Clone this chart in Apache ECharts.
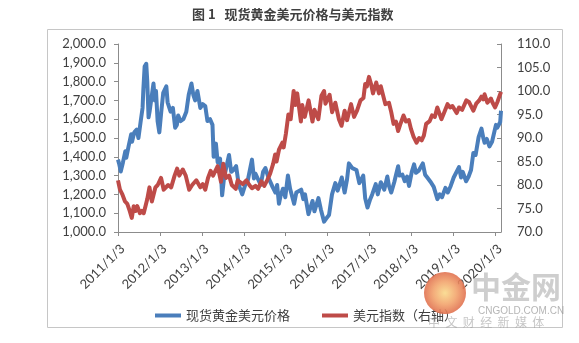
<!DOCTYPE html>
<html>
<head>
<meta charset="utf-8">
<script src="https://cdn.jsdelivr.net/npm/echarts@6/dist/echarts.min.js"></script>
<style>
  html, body { margin: 0; padding: 0; background: #fff; }
  #chart { width: 579px; height: 343px; }
</style>
</head>
<body>
<div id="chart"></div>
<script>
// Spot gold (USD/oz), left axis
const goldDates = [
  '2011-01-03','2011-01-14','2011-01-27','2011-02-15','2011-03-08','2011-03-16','2011-04-05','2011-04-28',
  '2011-05-05','2011-05-25','2011-06-15','2011-06-30','2011-07-20','2011-08-05','2011-08-12','2011-08-23',
  '2011-09-06','2011-09-15','2011-09-26','2011-10-05','2011-10-18','2011-11-08','2011-11-20','2011-11-30',
  '2011-12-14','2011-12-29','2012-01-15','2012-02-01','2012-02-28','2012-03-10','2012-04-05','2012-04-25',
  '2012-05-15','2012-05-30','2012-06-10','2012-07-01','2012-07-25','2012-08-20','2012-09-10','2012-10-04',
  '2012-10-20','2012-11-05','2012-11-25','2012-12-20','2013-01-10','2013-02-01','2013-02-20','2013-03-15',
  '2013-04-05','2013-04-15','2013-05-05','2013-05-20','2013-06-10','2013-06-28','2013-07-15','2013-08-27',
  '2013-09-15','2013-10-05','2013-10-28','2013-11-20','2013-12-20','2014-01-15','2014-02-05','2014-03-15',
  '2014-04-01','2014-04-15','2014-05-30','2014-06-20','2014-07-10','2014-08-05','2014-09-10','2014-10-05',
  '2014-10-20','2014-11-05','2014-11-20','2014-12-10','2014-12-30','2015-01-22','2015-02-10','2015-03-17',
  '2015-04-05','2015-05-18','2015-06-05','2015-06-20','2015-07-20','2015-08-05','2015-08-24','2015-09-10',
  '2015-10-15','2015-11-05','2015-12-03','2015-12-20','2016-01-15','2016-02-10','2016-03-10','2016-03-30',
  '2016-04-20','2016-05-05','2016-05-30','2016-06-20','2016-07-06','2016-08-05','2016-08-20','2016-09-10',
  '2016-10-05','2016-11-08','2016-11-25','2016-12-15','2017-01-05','2017-01-25','2017-02-25','2017-03-15',
  '2017-04-10','2017-05-10','2017-06-06','2017-06-20','2017-07-10','2017-08-05','2017-09-08','2017-09-20',
  '2017-10-15','2017-11-05','2017-11-25','2017-12-12','2018-01-05','2018-01-25','2018-02-10','2018-03-05',
  '2018-04-11','2018-05-01','2018-05-20','2018-06-20','2018-07-15','2018-08-16','2018-09-05','2018-09-25',
  '2018-10-25','2018-11-15','2018-12-10','2019-01-05','2019-02-20','2019-03-10','2019-03-25','2019-04-23',
  '2019-05-15','2019-06-05','2019-06-25','2019-07-15','2019-08-10','2019-09-04','2019-09-20','2019-10-01',
  '2019-10-20','2019-11-12','2019-12-05','2019-12-20','2020-01-08','2020-01-20','2020-02-05','2020-02-14',
  '2020-02-21'
];
const goldValues = [
  1385,1360,1322,1370,1430,1395,1455,1520,
  1480,1530,1545,1500,1590,1660,1760,1880,
  1895,1800,1610,1640,1650,1790,1700,1750,
  1590,1530,1640,1740,1775,1690,1640,1660,
  1555,1570,1620,1590,1600,1640,1730,1790,
  1730,1700,1750,1660,1680,1670,1590,1600,
  1570,1400,1470,1370,1390,1195,1290,1410,
  1320,1330,1350,1250,1200,1250,1270,1385,
  1285,1310,1250,1320,1340,1290,1240,1210,
  1250,1150,1195,1230,1185,1300,1230,1150,
  1210,1225,1175,1200,1095,1088,1165,1110,
  1180,1120,1055,1070,1090,1200,1260,1220,
  1260,1290,1210,1280,1365,1340,1345,1330,
  1260,1300,1180,1130,1170,1200,1255,1200,
  1265,1225,1295,1245,1210,1265,1350,1300,
  1305,1270,1295,1245,1320,1360,1315,1325,
  1365,1305,1290,1265,1240,1175,1200,1185,
  1235,1210,1245,1290,1345,1290,1320,1270,
  1295,1330,1420,1410,1505,1550,1500,1475,
  1495,1455,1480,1480,1570,1555,1555,1585,
  1645
];

// US dollar index, right axis
const usdDates = [
  '2011-01-03','2011-01-20','2011-02-10','2011-03-05','2011-03-25','2011-04-15','2011-05-03','2011-05-20',
  '2011-06-07','2011-06-20','2011-07-13','2011-07-30','2011-08-15','2011-08-30','2011-09-15','2011-10-04',
  '2011-10-25','2011-11-25','2011-12-15','2011-12-29','2012-01-13','2012-02-05','2012-03-15','2012-04-10',
  '2012-05-10','2012-06-01','2012-06-20','2012-07-20','2012-08-15','2012-09-14','2012-10-10','2012-11-15',
  '2012-12-20','2013-01-10','2013-02-01','2013-02-25','2013-03-20','2013-04-10','2013-05-20','2013-06-18',
  '2013-07-08','2013-08-01','2013-08-28','2013-09-20','2013-10-25','2013-11-10','2013-12-25','2014-01-25',
  '2014-02-20','2014-03-15','2014-04-15','2014-05-08','2014-06-05','2014-06-30','2014-07-25','2014-08-20',
  '2014-09-15','2014-10-03','2014-10-15','2014-11-05','2014-12-05','2014-12-16','2015-01-05','2015-01-26',
  '2015-02-15','2015-03-13','2015-03-26','2015-04-13','2015-05-15','2015-05-27','2015-06-18','2015-07-21',
  '2015-08-24','2015-09-10','2015-10-14','2015-11-10','2015-12-03','2015-12-15','2016-01-20','2016-02-11',
  '2016-03-10','2016-04-10','2016-05-03','2016-05-30','2016-06-20','2016-07-25','2016-08-20','2016-09-15',
  '2016-10-15','2016-11-10','2016-11-25','2016-12-10','2016-12-28','2017-01-15','2017-02-01','2017-03-01',
  '2017-03-25','2017-04-10','2017-05-01','2017-05-20','2017-06-20','2017-07-10','2017-07-30','2017-08-20',
  '2017-09-08','2017-09-25','2017-10-25','2017-11-15','2017-12-10','2017-12-28','2018-01-20','2018-02-15',
  '2018-03-10','2018-04-01','2018-04-20','2018-05-10','2018-06-10','2018-06-30','2018-07-25','2018-08-15',
  '2018-09-20','2018-10-15','2018-11-12','2018-12-05','2018-12-25','2019-01-31','2019-02-20','2019-03-20',
  '2019-04-25','2019-05-20','2019-06-25','2019-07-20','2019-08-15','2019-09-03','2019-09-20','2019-10-01',
  '2019-10-25','2019-11-25','2019-12-10','2019-12-31','2020-01-20','2020-02-05','2020-02-21'
];
const usdValues = [
  81.0,79.0,78.0,76.5,76.0,74.5,73.0,75.5,
  74.5,75.5,74.0,74.5,74.0,73.8,77.0,79.5,
  76.5,79.5,80.0,80.3,81.5,79.0,80.0,79.5,
  82.0,83.5,82.0,83.3,82.0,79.0,80.0,81.0,
  79.5,80.2,79.0,81.5,83.0,82.0,84.0,80.7,
  84.5,81.5,82.0,80.0,79.2,81.0,80.2,81.0,
  80.0,79.3,79.8,79.2,80.8,79.8,81.0,82.4,
  84.5,86.5,85.0,87.5,89.0,88.0,91.0,95.0,
  94.0,100.0,97.0,99.5,93.5,97.0,94.5,98.0,
  93.5,96.0,94.0,99.0,100.0,97.3,99.2,95.5,
  97.5,94.0,92.6,95.8,93.8,97.2,94.5,95.8,
  98.0,98.5,101.5,101.0,103.0,101.5,99.5,101.8,
  99.5,101.0,99.0,97.2,97.5,95.5,93.0,93.5,
  91.5,92.8,94.8,93.5,93.8,92.0,90.3,89.0,
  90.0,89.5,90.5,93.0,93.6,94.8,94.5,96.5,
  94.0,95.5,97.2,96.5,96.8,95.3,96.5,96.0,
  98.0,97.6,95.8,97.3,98.0,98.8,98.2,99.3,
  97.5,98.4,97.5,96.5,97.6,98.0,99.8
];

// Yearly tick labels on the date axis
const tickLabels = ['2011/1/3','2012/1/3','2013/1/3','2014/1/3','2015/1/3','2016/1/3','2017/1/3','2018/1/3','2019/1/3','2020/1/3'];
const axisEndDate = '2020-02-21';

const goldName = '现货黄金美元价格';
const usdName = '美元指数（右轴）';
const titleText = '图 1   现货黄金美元价格与美元指数';

// date string ('YYYY-MM-DD' or 'YYYY/M/D') -> local timestamp
const stamp = s => { const p = s.split(/[-\/]/).map(Number); return new Date(p[0], p[1] - 1, p[2]).getTime(); };
const tickStamps = tickLabels.map(stamp);
const labelOf = v => { const d = new Date(v); return d.getFullYear() + '/' + (d.getMonth() + 1) + '/' + d.getDate(); };
const pair = (ds, vs) => ds.map((d, i) => [stamp(d), vs[i]]);

const axisFont = { fontFamily: 'Lato, "Liberation Sans", sans-serif', fontSize: 13, color: '#404040' };
const axisLineStyle = { color: '#8c8c8c', width: 1 };

const chart = echarts.init(document.getElementById('chart'), null, { renderer: 'canvas' });
chart.setOption({
  animation: false,
  backgroundColor: '#fff',
  graphic: [
    {
      type: 'rect', silent: true, z: -1,
      shape: { x: 47.5, y: 29.5, width: 515, height: 298 },
      style: { fill: 'none', stroke: '#c6c6c6', lineWidth: 1 }
    },
    {
      type: 'text', x: 192, y: 8,
      style: { text: titleText, font: 'bold 13px "Noto Sans CJK SC", sans-serif', fill: '#404040' }
    },
    {
      type: 'circle', z: 100, silent: true,
      shape: { cx: 445, cy: 293, r: 21 },
      style: {
        fill: { type: 'radial', x: 0.5, y: 0.5, r: 0.5,
          colorStops: [{ offset: 0, color: '#f9d98a' }, { offset: 0.55, color: '#f2a36c' }, { offset: 1, color: '#e0704f' }] },
        opacity: 0.9
      }
    },
    {
      type: 'text', z: 100, silent: true, x: 471, y: 272,
      style: { text: '中金网', font: 'bold 30px "Noto Sans CJK SC", sans-serif', fill: 'rgba(165,165,165,0.55)' }
    },
    {
      type: 'text', z: 100, silent: true, x: 478, y: 306,
      style: { text: 'CNGOLD.COM.CN', font: '10px "Liberation Sans", sans-serif', fill: 'rgba(150,150,150,0.7)' }
    },
    {
      type: 'text', z: 100, silent: true, x: 428, y: 316,
      style: { text: '中  文  财  经  新  媒  体', font: '12px "Noto Sans CJK SC", sans-serif', fill: 'rgba(160,160,160,0.6)' }
    }
  ],
  legend: {
    left: 150, top: 304,
    itemWidth: 26, itemHeight: 4, itemGap: 32,
    icon: 'rect',
    textStyle: { fontFamily: '"Noto Sans CJK SC", sans-serif', fontSize: 13, color: '#404040' },
    data: [goldName, usdName]
  },
  grid: { left: 118, right: 78, top: 44, bottom: 111, containLabel: false },
  xAxis: {
    type: 'value',
    min: tickStamps[0],
    max: stamp(axisEndDate),
    axisLine: { lineStyle: axisLineStyle },
    axisTick: { show: true, length: 4, lineStyle: axisLineStyle, customValues: tickStamps },
    splitLine: { show: false },
    axisLabel: Object.assign({
      customValues: tickStamps,
      rotate: 45,
      margin: 10,
      verticalAlign: 'top',
      hideOverlap: false,
      formatter: labelOf
    }, axisFont)
  },
  yAxis: [
    {
      type: 'value', min: 1000, max: 2000, interval: 100,
      axisLine: { show: true, lineStyle: axisLineStyle },
      axisTick: { show: true, length: 4, lineStyle: axisLineStyle },
      splitLine: { show: false },
      axisLabel: Object.assign({
        margin: 12,
        formatter: v => v.toLocaleString('en-US', { minimumFractionDigits: 1, maximumFractionDigits: 1 })
      }, axisFont)
    },
    {
      type: 'value', min: 70, max: 110, interval: 5, position: 'right',
      axisLine: { show: true, lineStyle: axisLineStyle },
      axisTick: { show: true, inside: true, length: 4, lineStyle: axisLineStyle },
      splitLine: { show: false },
      axisLabel: Object.assign({ margin: 16, formatter: v => v.toFixed(1) }, axisFont)
    }
  ],
  series: [
    {
      name: goldName, type: 'line', yAxisIndex: 0,
      data: pair(goldDates, goldValues),
      showSymbol: false, symbol: 'none',
      lineStyle: { color: '#4a7ebb', width: 4, join: 'round' },
      itemStyle: { color: '#4a7ebb' }
    },
    {
      name: usdName, type: 'line', yAxisIndex: 1,
      data: pair(usdDates, usdValues),
      showSymbol: false, symbol: 'none',
      lineStyle: { color: '#be4b48', width: 4, join: 'round' },
      itemStyle: { color: '#be4b48' }
    }
  ]
});
</script>
</body>
</html>
